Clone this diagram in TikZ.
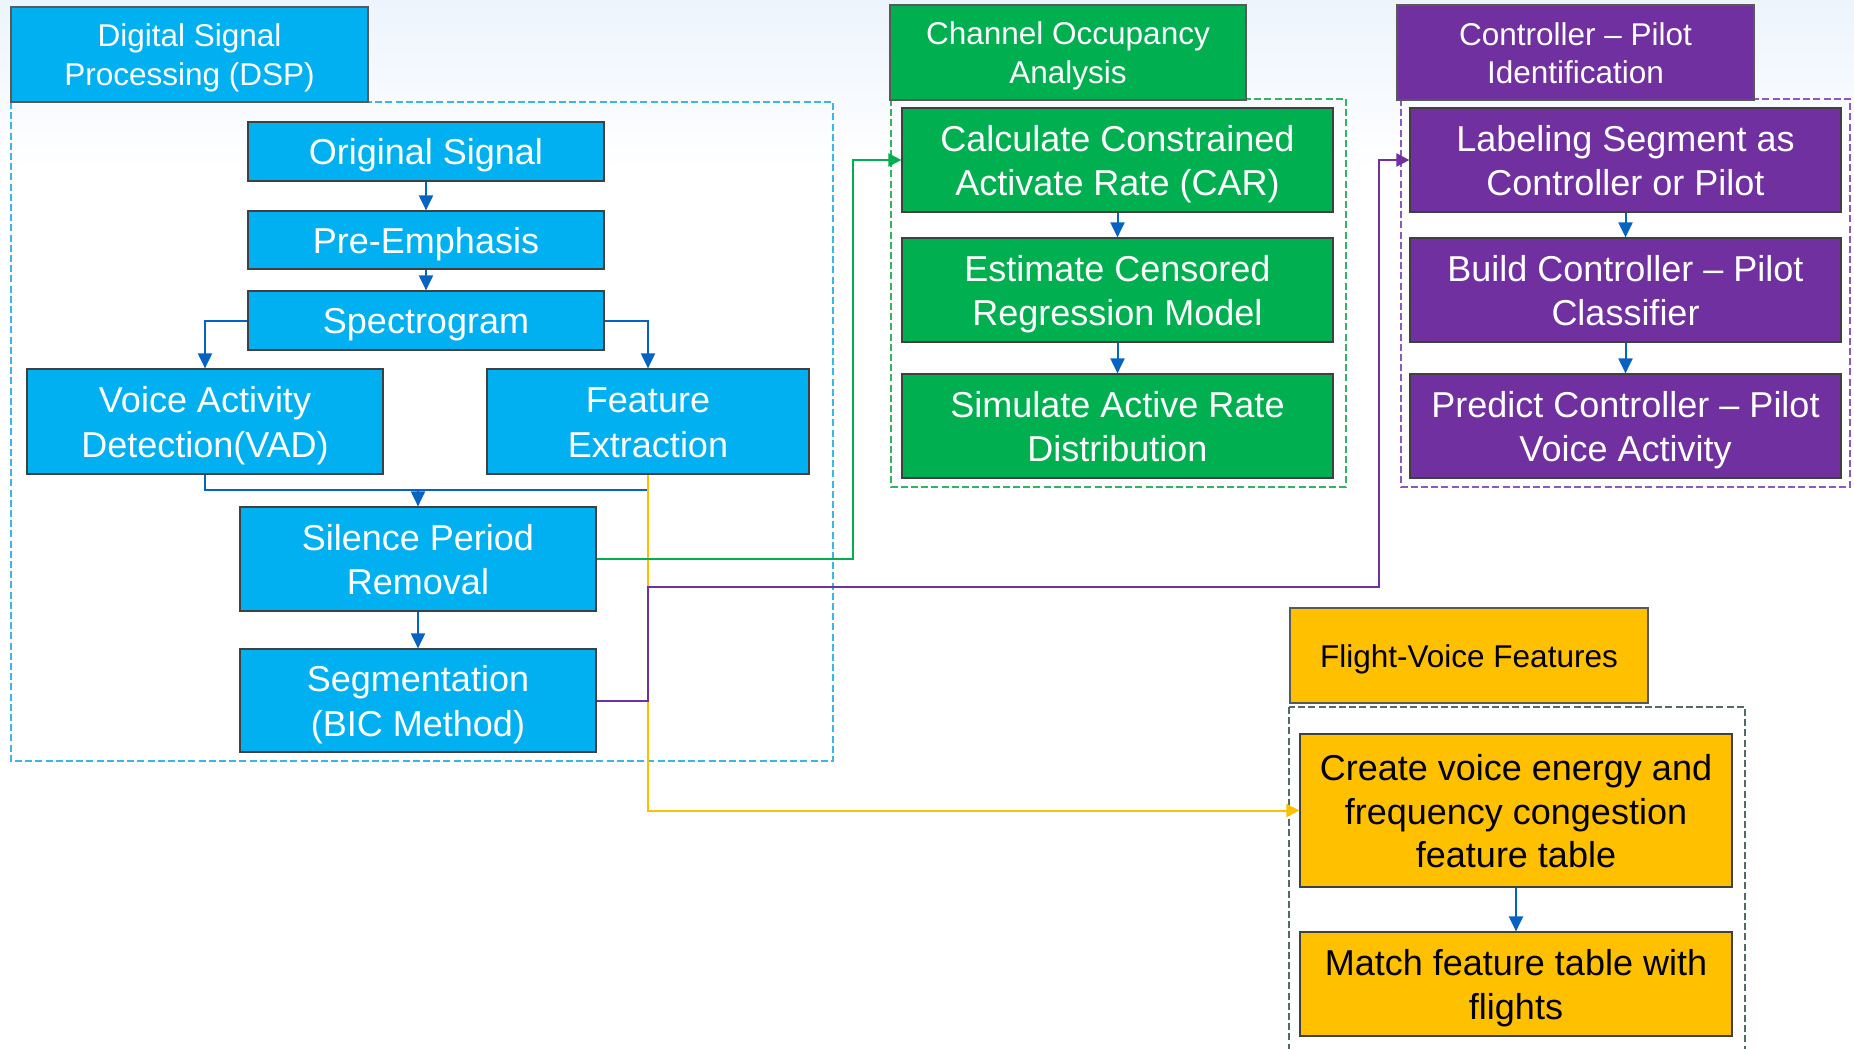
\documentclass[tikz,border=0pt]{standalone}
\usepackage{fontspec}
\setmainfont{Liberation Sans}
\usetikzlibrary{arrows.meta}

\definecolor{dspblue}{RGB}{0,176,240}
\definecolor{cogreen}{RGB}{0,176,80}
\definecolor{cppurple}{RGB}{112,48,160}
\definecolor{fvyellow}{RGB}{255,192,0}
\definecolor{arrowblue}{RGB}{5,99,193}
\definecolor{dspdash}{RGB}{60,182,232}
\definecolor{codash}{RGB}{50,180,100}
\definecolor{cpdash}{RGB}{140,90,190}
\definecolor{fvdash}{RGB}{85,105,105}
\definecolor{topsky}{RGB}{236,244,253}

% strut that gives every text line a PowerPoint-like line box
\newcommand\ls{\rule[-0.2em]{0pt}{1.15em}}
% line break that keeps the struts on both sides
\newcommand\nl{\ls\\\ls}

\tikzset{
  box/.style={draw=black!75, line width=0.6pt, align=center, inner sep=0pt,
    font=\fontsize{18}{22.2}\selectfont},
  head/.style={draw=black!65, line width=0.6pt, align=center, inner sep=0pt,
    font=\fontsize{15.75}{19.2}\selectfont},
  bluebox/.style={box, fill=dspblue, text=white},
  greenbox/.style={box, fill=cogreen, text=white},
  purplebox/.style={box, fill=cppurple, text=white},
  yellowbox/.style={box, fill=fvyellow, text=black, font=\fontsize{18}{21.7}\selectfont},
  frame/.style={dash pattern=on 3.5pt off 1.6pt, line width=1pt},
  flow/.style={draw=arrowblue, line width=1pt, -{Triangle[length=7.5pt,width=7pt]}},
  link/.style={line width=1pt, -{Triangle[length=6.5pt,width=6.5pt]}},
}

\begin{document}
\begin{tikzpicture}[x=0.5pt, y=-0.5pt]
\useasboundingbox (0,0) rectangle (1854,1049);
\fill[white] (0,0) rectangle (1854,1049);
\shade[top color=topsky, bottom color=white] (0,0) rectangle (1854,170);

% ---- Digital Signal Processing group ----
\draw[frame, draw=dspdash] (11,102) rectangle (833,761);
\node[head, fill=dspblue, text=white, minimum width=178.5pt, minimum height=47.5pt]
  (dsp) at (189.5,54.5) {\ls Digital Signal\nl Processing (DSP)\ls};
\node[bluebox, minimum width=178pt, minimum height=29.5pt] (orig) at (426,151.5) {\ls Original Signal\ls};
\node[bluebox, minimum width=178pt, minimum height=29pt] (pre) at (426,240) {\ls Pre-Emphasis\ls};
\node[bluebox, minimum width=178pt, minimum height=29.5pt] (spec) at (426,320.5) {\ls Spectrogram\ls};
\node[bluebox, minimum width=178pt, minimum height=52.5pt] (vad) at (205,421.5) {\ls Voice Activity\nl Detection(VAD)\ls};
\node[bluebox, minimum width=161pt, minimum height=52.5pt] (feat) at (648,421.5) {\ls Feature\nl Extraction\ls};
\node[bluebox, minimum width=178pt, minimum height=52pt] (sil) at (418,559) {\ls Silence Period\nl Removal\ls};
\node[bluebox, minimum width=178pt, minimum height=51.5pt] (seg) at (418,700.5) {\ls Segmentation\nl (BIC Method)\ls};

% ---- Channel Occupancy Analysis group ----
\draw[frame, draw=codash] (891,99) rectangle (1346,487);
\node[head, fill=cogreen, text=white, minimum width=178pt, minimum height=47.5pt]
  (chan) at (1068,52.5) {\ls Channel Occupancy\nl Analysis\ls};
\node[greenbox, minimum width=215.5pt, minimum height=52pt] (car) at (1117.5,160) {\ls Calculate Constrained\nl Activate Rate (CAR)\ls};
\node[greenbox, minimum width=215.5pt, minimum height=52pt] (est) at (1117.5,290) {\ls Estimate Censored\nl Regression Model\ls};
\node[greenbox, minimum width=215.5pt, minimum height=52pt] (sim) at (1117.5,426) {\ls Simulate Active Rate\nl Distribution\ls};

% ---- Controller - Pilot Identification group ----
\draw[frame, draw=cpdash] (1401,99) rectangle (1850,487);
\node[head, fill=cppurple, text=white, minimum width=178.5pt, minimum height=47.5pt]
  (ctrl) at (1575.5,52.5) {\ls Controller – Pilot\nl Identification\ls};
\node[purplebox, minimum width=215.5pt, minimum height=52pt] (lab) at (1625.5,160) {\ls Labeling Segment as\nl Controller or Pilot\ls};
\node[purplebox, minimum width=215.5pt, minimum height=52pt] (build) at (1625.5,290) {\ls Build Controller – Pilot\nl Classifier\ls};
\node[purplebox, minimum width=215.5pt, minimum height=52pt] (pred) at (1625.5,426) {\ls Predict Controller – Pilot\nl Voice Activity\ls};

% ---- Flight-Voice Features group ----
\draw[frame, draw=fvdash] (1289,707) rectangle (1745,1070);
\node[head, fill=fvyellow, text=black, minimum width=179pt, minimum height=47.5pt]
  (fv) at (1469,655.5) {\ls Flight-Voice Features\ls};
\node[yellowbox, minimum width=216pt, minimum height=76.5pt] (create) at (1516,810.5) {\ls Create voice energy and\nl frequency congestion\nl feature table\ls};
\node[yellowbox, minimum width=216pt, minimum height=52pt] (match) at (1516,984) {\ls Match feature table with\nl flights\ls};

% ---- signal processing chain ----
\draw[flow] (orig) -- (pre);
\draw[flow] (pre) -- (spec);
\draw[flow] (spec.west) -| (vad.north);
\draw[flow] (spec.east) -| (feat.north);
\coordinate (mrg) at (418,490);
\draw[draw=arrowblue, line width=1pt] (vad.south) |- (mrg) -| (feat.south);
\draw[flow] (mrg) -- (sil.north);
\draw[flow] (sil) -- (seg);

% ---- group chains ----
\draw[flow] (car) -- (est);
\draw[flow] (est) -- (sim);
\draw[flow] (lab) -- (build);
\draw[flow] (build) -- (pred);
\draw[flow] (create) -- (match);

% ---- links between groups ----
\coordinate (gx) at (853,0);
\coordinate (px) at (1378.5,0);
\coordinate (ptap) at (648,587);
\draw[link, draw=fvyellow] (feat.south) |- (create.west);
\draw[link, draw=cogreen] (sil.east) -| (gx |- car.west) -- (car.west);
\draw[link, draw=cppurple] (seg.east) -| (ptap) -| (px |- lab.west) -- (lab.west);
\end{tikzpicture}
\end{document}
